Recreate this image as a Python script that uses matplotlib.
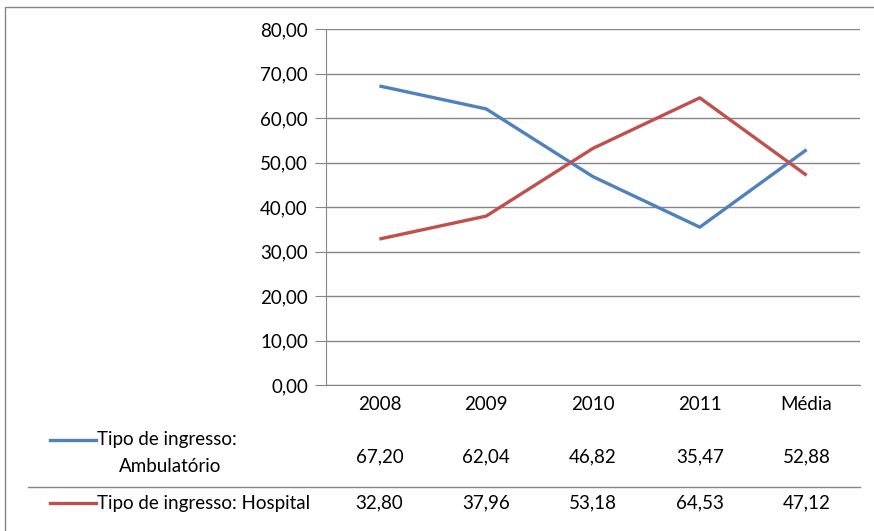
import matplotlib.pyplot as plt
import matplotlib.ticker as ticker
from matplotlib.lines import Line2D
from matplotlib.transforms import blended_transform_factory

categorias = ['2008', '2009', '2010', '2011', 'Média']
ambulatorio = [67.20, 62.04, 46.82, 35.47, 52.88]
hospital = [32.80, 37.96, 53.18, 64.53, 47.12]
yticks = [0, 10, 20, 30, 40, 50, 60, 70, 80]

azul = '#4F81BD'
vermelho = '#C0504D'
cinza = '#868686'
fs = 13.5

plt.rcParams['font.family'] = ['Lato', 'DejaVu Sans']

W, H = 874, 531
fig = plt.figure(figsize=(W / 100, H / 100), dpi=100)

# plot area in pixels: x 326..860, y 29..385
ax = fig.add_axes([326 / W, 1 - 385 / H, (860 - 326) / W, (385 - 29) / H])
x = list(range(len(categorias)))
ax.plot(x, ambulatorio, color=azul, lw=2.4, solid_capstyle='butt')
ax.plot(x, hospital, color=vermelho, lw=2.4, solid_capstyle='butt')

ax.set_xlim(-0.5, len(categorias) - 0.5)
ax.set_ylim(0, 80)
ax.set_yticks(yticks)
ax.yaxis.set_major_formatter(ticker.FuncFormatter(lambda v, p: f'{v:.2f}'.replace('.', ',')))
ax.set_xticks([])
ax.grid(axis='y', color=cinza, lw=1)
ax.set_axisbelow(True)
for s in ['top', 'right']:
    ax.spines[s].set_visible(False)
ax.spines['left'].set_color(cinza)
ax.spines['bottom'].set_color(cinza)
ax.tick_params(axis='y', length=8, color=cinza, labelsize=fs, pad=5, labelcolor='black')

# data table below the plot
tr = blended_transform_factory(ax.transData, fig.transFigure)
fy = lambda py: 1 - py / H
for i, c in enumerate(categorias):
    ax.text(i, fy(405), c, transform=tr, ha='center', va='center', fontsize=fs)
    ax.text(i, fy(457), f'{ambulatorio[i]:.2f}'.replace('.', ','), transform=tr,
            ha='center', va='center', fontsize=fs)
    ax.text(i, fy(503), f'{hospital[i]:.2f}'.replace('.', ','), transform=tr,
            ha='center', va='center', fontsize=fs)

fig.text(97 / W, fy(440), 'Tipo de ingresso:', ha='left', va='center', fontsize=fs)
fig.text(170 / W, fy(467), 'Ambulatório', ha='center', va='center', fontsize=fs)
fig.text(97 / W, fy(503), 'Tipo de ingresso: Hospital', ha='left', va='center', fontsize=fs)

fig.add_artist(Line2D([50 / W, 96 / W], [fy(440), fy(440)], color=azul, lw=2.4))
fig.add_artist(Line2D([50 / W, 96 / W], [fy(503), fy(503)], color=vermelho, lw=2.4))

# separator between rows
fig.add_artist(Line2D([28 / W, 860 / W], [fy(487), fy(487)], color=cinza, lw=1))

# chart border
fig.add_artist(Line2D([5 / W, 5 / W, 1], [0, fy(7), fy(7)], color=cinza, lw=1))

fig.savefig('out.png', dpi=100)
